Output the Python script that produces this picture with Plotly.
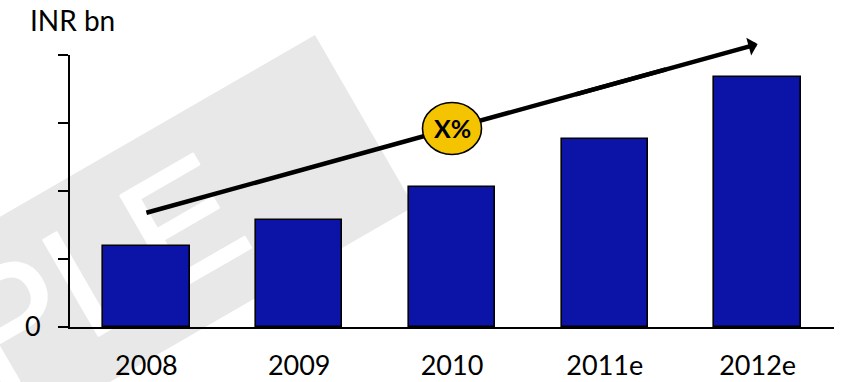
import base64
import plotly.graph_objects as go

# ---- data -------------------------------------------------------------
years = ["2008", "2009", "2010", "2011e", "2012e"]
market_size = [1.19, 1.57, 2.06, 2.77, 3.68]      # INR bn (index scale)
y_tick_vals = [0, 1, 2, 3, 4]
y_tick_text = ["0", "", "", "", ""]
unit_label = "INR bn"
growth_label = "X%"
trend_start = [0.0, 1.68]     # (category position, value)
trend_end = [4.0, 4.16]
badge_pos = 2.0               # category position of the growth badge

W, H = 843, 382
M_L, M_R, M_T, M_B = 70, 9, 55, 55
FONT = "Lato, Calibri, 'Open Sans', sans-serif"
BAR_BLUE = "#0b14a6"

x_pos = list(range(len(years)))

fig = go.Figure()

fig.add_trace(go.Bar(
    x=x_pos, y=market_size, width=0.565,
    marker=dict(color=BAR_BLUE, line=dict(color="black", width=1.6)),
    hoverinfo="skip",
))

# trend line: plain segment past the badge, arrow annotation overlapping it to the tip
def on_trend(t):
    return [trend_start[0] + t * (trend_end[0] - trend_start[0]),
            trend_start[1] + t * (trend_end[1] - trend_start[1])]

line_end = on_trend(0.85)
arrow_tail = on_trend(0.7)
fig.add_trace(go.Scatter(
    x=[trend_start[0], line_end[0]], y=[trend_start[1], line_end[1]],
    mode="lines", line=dict(color="black", width=4.5),
    cliponaxis=False, hoverinfo="skip",
))
fig.add_annotation(
    x=trend_end[0], y=trend_end[1], ax=arrow_tail[0], ay=arrow_tail[1],
    xref="x", yref="y", axref="x", ayref="y",
    text="", showarrow=True, arrowhead=1, arrowsize=0.68,
    arrowwidth=4.5, arrowcolor="black", standoff=0,
)

# growth badge
slope = (trend_end[1] - trend_start[1]) / (trend_end[0] - trend_start[0])
badge_y = trend_start[1] + slope * (badge_pos - trend_start[0])
fig.add_shape(
    type="circle", xref="x", yref="y", xsizemode="pixel", ysizemode="pixel",
    xanchor=badge_pos, yanchor=badge_y, x0=-29.5, x1=29.5, y0=-26, y1=26,
    fillcolor="#f5c400", line=dict(color="black", width=1.6), layer="above",
)
fig.add_annotation(
    x=badge_pos, y=badge_y, xref="x", yref="y", text="<b>" + growth_label + "</b>",
    showarrow=False, font=dict(family=FONT, size=25, color="black"),
)

# unit label
plot_w = W - M_L - M_R
plot_h = H - M_T - M_B
fig.add_annotation(
    x=(28 - M_L) / plot_w, y=(H - M_B - 20) / plot_h, xref="paper", yref="paper",
    xanchor="left", yanchor="middle", text=unit_label, showarrow=False,
    font=dict(family=FONT, size=28, color="black"),
)

# watermark band behind the chart
svg = f"""<svg xmlns="http://www.w3.org/2000/svg" width="{W}" height="{H}" viewBox="0 0 {W} {H}" preserveAspectRatio="none">
<g transform="translate(315,35) rotate(-30)">
<rect x="-900" y="0" width="900" height="198" fill="#e8e8e8"/>
<text x="-155" y="152" text-anchor="end" font-family="Liberation Sans, Arial, sans-serif"
 font-size="160" fill="#ffffff" stroke="#ffffff" stroke-width="2.5"
 stroke-linejoin="round" stroke-linecap="round">SAMPLE</text>
</g>
</svg>"""
fig.add_layout_image(
    source="data:image/svg+xml;base64," + base64.b64encode(svg.encode()).decode(),
    xref="paper", yref="paper", x=-M_L / plot_w, y=1 + M_T / plot_h,
    sizex=W / plot_w, sizey=H / plot_h, xanchor="left", yanchor="top",
    sizing="stretch", layer="below",
)

fig.update_layout(
    width=W, height=H, margin=dict(l=M_L, r=M_R, t=M_T, b=M_B, pad=0, autoexpand=False),
    paper_bgcolor="white", plot_bgcolor="rgba(0,0,0,0)",
    showlegend=False, bargap=0,
    font=dict(family=FONT, size=27, color="black"),
)
fig.update_xaxes(
    range=[-0.5, 4.5], tickvals=x_pos, ticktext=years, showgrid=False,
    zeroline=False, showline=True, linecolor="black", linewidth=2,
    ticks="", ticklabelstandoff=14, tickfont=dict(family=FONT, size=27),
    automargin=False,
)
fig.update_yaxes(
    range=[0, 4], tickvals=y_tick_vals, ticktext=y_tick_text, showgrid=False,
    zeroline=False, showline=True, linecolor="black", linewidth=2,
    ticks="outside", ticklen=10, tickwidth=2, tickcolor="black",
    ticklabelstandoff=12, tickfont=dict(family=FONT, size=27),
    automargin=False,
)

fig.write_html("out.html")
